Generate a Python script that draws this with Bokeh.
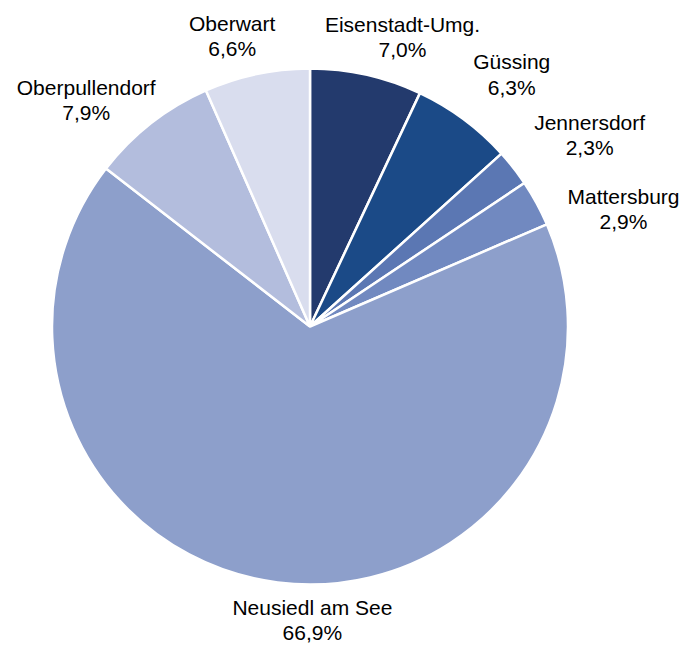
import math
from bokeh.plotting import figure
from bokeh.models import Range1d, ColumnDataSource
from bokeh.core.properties import value
from bokeh.embed import file_html
from bokeh.resources import INLINE

# ---- data ----
districts = ["Eisenstadt-Umg.", "Güssing", "Jennersdorf", "Mattersburg",
             "Neusiedl am See", "Oberpullendorf", "Oberwart"]
shares = [7.0, 6.3, 2.3, 2.9, 66.9, 7.9, 6.6]
share_labels = ["7,0%", "6,3%", "2,3%", "2,9%", "66,9%", "7,9%", "6,6%"]

# ---- styling / layout ----
colors = ["#233a6d", "#1b4a87", "#5b77b3", "#7189c0", "#8d9fcb", "#b3bddd", "#d9ddee"]
W, H = 682, 645
CX, CY = 309.5, 326          # pie centre in frame pixels (from top-left)
R = 258
LABEL_R = 300
label_nudge = [(27, -3), (23, 11), (43, 7), (50, -26), (40, 4), (-39, -10), (-16, -3)]

total = sum(shares)
starts, ends, lx, ly, texts = [], [], [], [], []
cum = 0.0
for i, s in enumerate(shares):
    a0 = math.pi / 2 - cum / total * 2 * math.pi
    cum += s
    a1 = math.pi / 2 - cum / total * 2 * math.pi
    starts.append(a0)
    ends.append(a1)
    mid = (a0 + a1) / 2
    lx.append(LABEL_R * math.cos(mid) + label_nudge[i][0])
    ly.append(LABEL_R * math.sin(mid) + label_nudge[i][1])
    texts.append(districts[i] + "\n" + share_labels[i])

src = ColumnDataSource(dict(start=starts, end=ends, color=colors))
lsrc = ColumnDataSource(dict(x=lx, y=ly, text=texts))

p = figure(width=W, height=H, output_backend="svg", toolbar_location=None,
           x_range=Range1d(-CX, W - CX), y_range=Range1d(-(H - CY), CY),
           x_axis_location=None, y_axis_location=None, min_border=0,
           background_fill_color="white", border_fill_color="white")
p.outline_line_color = None
p.grid.visible = False

p.wedge(x=0, y=0, radius=R, radius_units="screen", start_angle="start", end_angle="end",
        direction="clock", fill_color="color", line_color="white", line_width=2.5,
        source=src)

p.text(x="x", y="y", text="text", source=lsrc, text_align="center",
       text_baseline="middle", text_font=value("Liberation Sans"),
       text_font_size="21px", text_line_height=1.1, text_color="#000000")

open("out.html", "w").write(file_html(p, INLINE))
